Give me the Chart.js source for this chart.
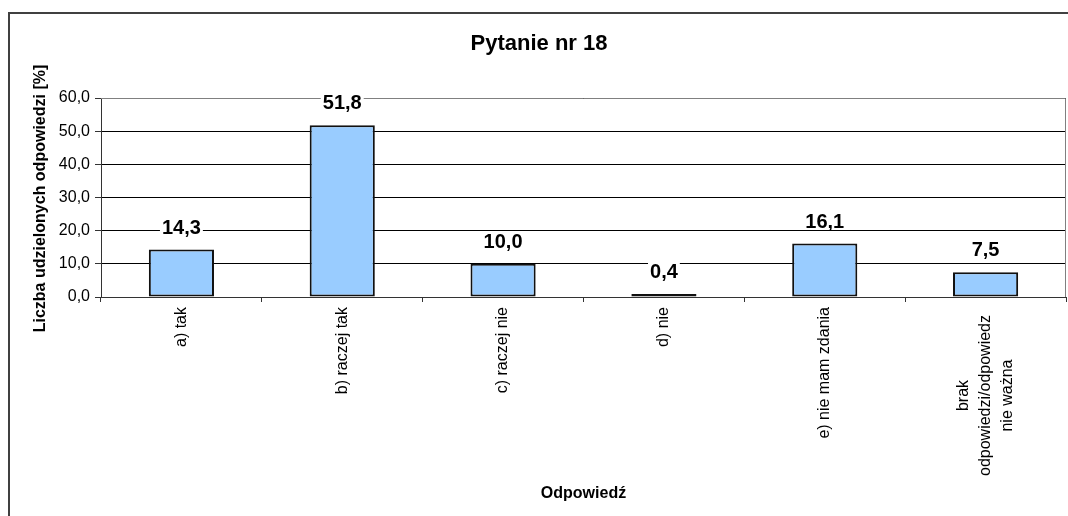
<!DOCTYPE html>
<html>
<head>
<meta charset="utf-8">
<script src="https://cdn.jsdelivr.net/npm/chart.js@4"></script>
<style>
  html, body { margin: 0; padding: 0; background: #fff; }
  #wrap { width: 1068px; height: 516px; }
</style>
</head>
<body>
<div id="wrap"><canvas id="chart" width="1068" height="516"></canvas></div>
<script>
(function () {
  'use strict';

  var categories = [
    'a) tak',
    'b) raczej tak',
    'c) raczej nie',
    'd) nie',
    'e) nie mam zdania',
    ['brak', 'odpowiedzi/odpowiedz', 'nie ważna']
  ];
  var values = [14.3, 51.8, 10.0, 0.4, 16.1, 7.5];
  var yMin = 0;
  var yMax = 60;
  var yStep = 10;
  var chartTitle = 'Pytanie nr 18';
  var yTitle = 'Liczba udzielonych odpowiedzi [%]';
  var xTitle = 'Odpowiedź';

  var FONT = '"Liberation Sans", Arial, Helvetica, sans-serif';

  function fmt(v) {
    return Number(v).toFixed(1).replace('.', ',');
  }

  var decor = {
    id: 'decor',
    beforeDraw: function (chart) {
      // outer frame (only top and left edges are in the picture)
      var ctx = chart.ctx;
      ctx.save();
      ctx.strokeStyle = '#404040';
      ctx.lineWidth = 2;
      ctx.beginPath();
      ctx.moveTo(9, chart.height);
      ctx.lineTo(9, 13);
      ctx.lineTo(chart.width, 13);
      ctx.stroke();
      ctx.restore();
    },
    beforeDatasetsDraw: function (chart) {
      // grey plot-area border, top and right
      var a = chart.chartArea;
      var ctx = chart.ctx;
      var t = Math.round(a.top) + 0.5;
      var r = Math.round(a.right) - 0.5;
      ctx.save();
      ctx.strokeStyle = '#808080';
      ctx.lineWidth = 1;
      ctx.beginPath();
      ctx.moveTo(a.left, t);
      ctx.lineTo(r, t);
      ctx.lineTo(r, a.bottom);
      ctx.stroke();
      ctx.restore();
    },
    afterDatasetsDraw: function (chart) {
      // value labels above the bars
      var ctx = chart.ctx;
      var meta = chart.getDatasetMeta(0);
      ctx.save();
      ctx.font = 'bold 20px ' + FONT;
      ctx.textAlign = 'center';
      ctx.textBaseline = 'alphabetic';
      meta.data.forEach(function (bar, i) {
        var txt = fmt(values[i]);
        var base = bar.y - 16;
        var w = ctx.measureText(txt).width;
        ctx.fillStyle = '#fff';
        ctx.fillRect(bar.x - w / 2 - 2, base - 16, w + 4, 18);
        ctx.fillStyle = '#000';
        ctx.fillText(txt, bar.x, base);
      });
      ctx.restore();
    },
    afterDraw: function (chart) {
      var ctx = chart.ctx;
      var a = chart.chartArea;
      var xs = chart.scales.x;
      ctx.save();
      ctx.fillStyle = '#000';

      // category labels, rotated
      ctx.font = '16px ' + FONT;
      categories.forEach(function (lab, i) {
        var x = xs.getPixelForValue(i);
        var lines = Array.isArray(lab) ? lab : [lab];
        ctx.save();
        if (lines.length === 1) {
          ctx.translate(x, a.bottom + 10);
          ctx.rotate(-Math.PI / 2);
          ctx.textAlign = 'right';
          ctx.textBaseline = 'middle';
          ctx.fillText(lines[0], 0, 0);
        } else {
          var maxW = 0;
          lines.forEach(function (l) { maxW = Math.max(maxW, ctx.measureText(l).width); });
          ctx.translate(x, a.bottom + 18 + maxW / 2);
          ctx.rotate(-Math.PI / 2);
          ctx.textAlign = 'center';
          ctx.textBaseline = 'middle';
          lines.forEach(function (l, j) {
            ctx.fillText(l, 0, (j - (lines.length - 1) / 2) * 22);
          });
        }
        ctx.restore();
      });

      // chart title
      ctx.font = 'bold 22px ' + FONT;
      ctx.textAlign = 'center';
      ctx.textBaseline = 'alphabetic';
      ctx.fillText(chartTitle, 539, 50);

      // x axis title
      ctx.font = 'bold 16px ' + FONT;
      ctx.fillText(xTitle, (a.left + a.right) / 2, 498);

      // y axis title
      ctx.save();
      ctx.translate(45, (a.top + a.bottom) / 2 + 1);
      ctx.rotate(-Math.PI / 2);
      ctx.fillText(yTitle, 0, 0);
      ctx.restore();

      ctx.restore();
    }
  };

  new Chart(document.getElementById('chart'), {
    type: 'bar',
    data: {
      labels: categories,
      datasets: [{
        data: values,
        backgroundColor: '#99CCFF',
        borderColor: '#111',
        borderWidth: 2,
        borderSkipped: false,
        minBarLength: 3,
        barPercentage: 0.405,
        categoryPercentage: 1
      }]
    },
    options: {
      responsive: false,
      animation: false,
      events: [],
      layout: { padding: { left: 0, top: 98, right: 2, bottom: 0 } },
      plugins: {
        legend: { display: false },
        tooltip: { enabled: false },
        title: { display: false }
      },
      scales: {
        x: {
          offset: true,
          grid: { drawOnChartArea: false, drawTicks: true, tickLength: 5, tickColor: '#333', offset: true },
          border: { display: true, color: '#333', width: 1 },
          ticks: { display: false },
          afterFit: function (scale) { scale.height = 219; }
        },
        y: {
          min: yMin,
          max: yMax,
          grid: { color: '#000', lineWidth: 1, drawTicks: true, tickLength: 6, tickColor: '#333' },
          border: { display: true, color: '#333', width: 1 },
          ticks: {
            stepSize: yStep,
            padding: 5,
            color: '#000',
            font: { family: FONT, size: 16 },
            callback: function (v) { return fmt(v); }
          },
          afterFit: function (scale) { scale.width = 101; }
        }
      }
    },
    plugins: [decor]
  });
})();
</script>
</body>
</html>
